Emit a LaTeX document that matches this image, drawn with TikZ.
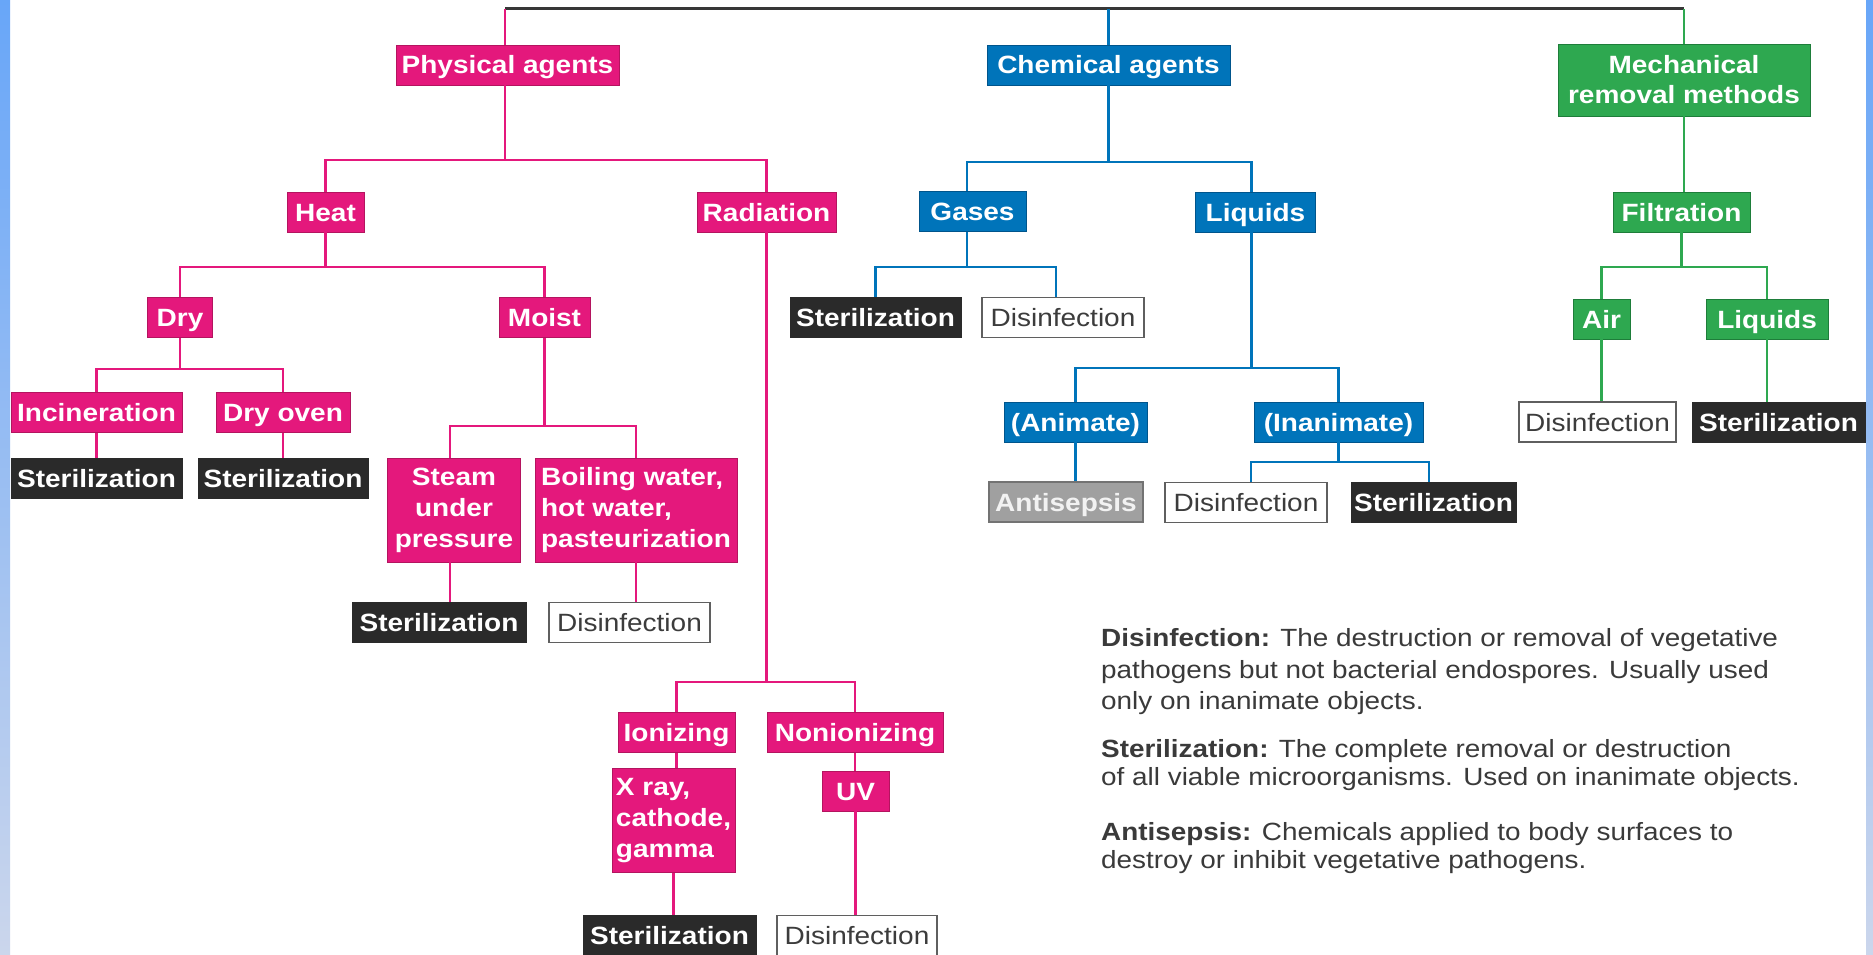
\documentclass[tikz,border=0pt]{standalone}
\usepackage{fontspec}
\setmainfont{Liberation Sans}[FakeStretch=1.12]
\definecolor{pinkc}{RGB}{228,24,124}
\definecolor{pinkd}{RGB}{180,20,95}
\definecolor{bluec}{RGB}{0,116,186}
\definecolor{blued}{RGB}{0,85,140}
\definecolor{greenc}{RGB}{46,168,80}
\definecolor{greend}{RGB}{30,125,58}
\definecolor{darkc}{RGB}{42,42,42}
\definecolor{dgray}{RGB}{95,95,95}
\definecolor{dtext}{RGB}{60,60,60}
\definecolor{agray}{RGB}{160,160,160}
\definecolor{agrayd}{RGB}{115,115,115}
\definecolor{atext}{RGB}{242,242,242}
\definecolor{topc}{RGB}{55,55,55}
\definecolor{legc}{RGB}{58,58,58}
\definecolor{stripT}{RGB}{104,166,248}
\definecolor{stripB}{RGB}{203,214,236}
\newcommand\labf{\fontsize{25pt}{31pt}\selectfont\bfseries}
\newcommand\labr{\fontsize{25pt}{31pt}\selectfont}
\newcommand\legf{\fontsize{24.9pt}{30pt}\selectfont}
\begin{document}
\begin{tikzpicture}[x=1pt,y=-1pt,
  base/.style={rectangle, inner xsep=3pt, inner ysep=0pt, text=white, font=\labf},
  one/.style={base, minimum height=40pt, text height=19.5pt, text depth=1.5pt},
  pfill/.style={fill=pinkc, draw=pinkd, line width=0.8pt},
  bfill/.style={fill=bluec, draw=blued, line width=0.8pt},
  gfill/.style={fill=greenc, draw=greend, line width=0.8pt},
  pbox/.style={one, pfill},
  pmbox/.style={base, pfill, minimum height=104pt},
  bbox/.style={one, bfill},
  gbox/.style={one, gfill},
  gmbox/.style={base, gfill, minimum height=72pt, align=center, font=\fontsize{25pt}{30pt}\selectfont\bfseries},
  sbox/.style={one, fill=darkc, draw=darkc},
  dbox/.style={one, fill=white, draw=dgray, line width=1.5pt, text=dtext, font=\labr},
  abox/.style={one, fill=agray, draw=agrayd, line width=1.5pt, text=atext},
  pl/.style={draw=pinkc, line width=2.4pt},
  bl/.style={draw=bluec, line width=2.4pt},
  gl/.style={draw=greenc, line width=2.2pt},
  tl/.style={draw=topc, line width=3pt},
  leg/.style={anchor=base west, inner sep=0pt, text=legc, font=\legf}
]
\useasboundingbox (0,0) rectangle (1873,955);
\fill[white] (0,0) rectangle (1873,955);
\shade[top color=stripT, bottom color=stripB] (0,0) rectangle (10,955);
\shade[top color=stripT, bottom color=stripB] (1866,0) rectangle (1873,955);

% ---------- physical agents (pink) ----------
\node[pbox, minimum width=223pt] (phys) at (507.5,65) {Physical agents};
\node[pbox, minimum width=77pt] (heat) at (325.5,212) {Heat};
\node[pbox, minimum width=139pt] (rad) at (766.5,212) {Radiation};
\node[pbox, minimum width=65pt] (dry) at (180,317.5) {Dry};
\node[pbox, minimum width=91pt] (moist) at (544.5,317.5) {Moist};
\node[pbox, minimum width=171pt] (incin) at (96.5,412.5) {Incineration};
\node[pbox, minimum width=134pt] (dryoven) at (283,412.5) {Dry oven};
\node[pmbox, minimum width=133pt, align=center] (steam) at (454,510) {Steam\\under\\pressure};
\node[pmbox, minimum width=202pt, align=left] (boil) at (636,510) {Boiling water,\\hot water,\\pasteurization};
\node[pbox, minimum width=117pt] (ioniz) at (676.5,732.5) {Ionizing};
\node[pbox, minimum width=176pt] (nonion) at (855,732.5) {Nonionizing};
\node[pmbox, minimum width=123pt, align=left] (xray) at (673.5,820.5) {X ray,\\cathode,\\gamma};
\node[pbox, minimum width=67pt] (uv) at (855.5,791) {UV};
\node[sbox, minimum width=171pt] (s1) at (96.5,478) {Sterilization};
\node[sbox, minimum width=170pt] (s2) at (283,478) {Sterilization};
\node[sbox, minimum width=174pt] (s3) at (439,622.5) {Sterilization};
\node[dbox, minimum width=161pt] (d3) at (629.5,622.5) {Disinfection};
\node[sbox, minimum width=173pt] (s4) at (669.5,935.5) {Sterilization};
\node[dbox, minimum width=160pt] (d4) at (857,935.5) {Disinfection};

% ---------- chemical agents (blue) ----------
\node[bbox, minimum width=243pt] (chem) at (1108.5,65) {Chemical agents};
\node[bbox, minimum width=107pt] (gases) at (972.5,211.5) {Gases};
\node[bbox, minimum width=120pt] (liquids) at (1255.5,212) {Liquids};
\node[sbox, minimum width=171pt] (sG) at (875.5,317.5) {Sterilization};
\node[dbox, minimum width=162pt] (dG) at (1063,317.5) {Disinfection};
\node[bbox, minimum width=143pt] (animate) at (1075.5,422) {(Animate)};
\node[bbox, minimum width=169pt] (inanimate) at (1338.5,422) {(Inanimate)};
\node[abox, minimum width=154pt] (antisep) at (1066,502) {Antisepsis};
\node[dbox, minimum width=162pt] (dL) at (1246,502.5) {Disinfection};
\node[sbox, minimum width=165pt] (sL) at (1433.5,502.5) {Sterilization};

% ---------- mechanical removal (green) ----------
\node[gmbox, minimum width=252pt] (mech) at (1684,80) {Mechanical\\removal methods};
\node[gbox, minimum width=137pt] (filt) at (1681.5,212) {Filtration};
\node[gbox, minimum width=57pt] (air) at (1601.5,319) {Air};
\node[gbox, minimum width=122pt] (liqG) at (1767,319) {Liquids};
\node[dbox, minimum width=157pt] (dM) at (1597.5,422) {Disinfection};
\node[sbox, minimum width=173pt] (sM) at (1778.5,422) {Sterilization};

% ---------- connectors ----------
\draw[tl] ([xshift=-2.5pt]phys.north |- 0,9) -- (mech.north |- 0,9);
\draw[pl] ([xshift=-2.5pt]phys.north) -- ([xshift=-2.5pt]phys.north |- 0,9);
\draw[bl] (chem.north) -- (chem.north |- 0,9);
\draw[gl] (mech.north) -- (mech.north |- 0,9);

% pink
\draw[pl] ([xshift=-2.5pt]phys.south) -- ([xshift=-2.5pt]phys.south |- 0,160);
\draw[pl] (heat.north) |- (rad.north |- 0,160) -- (rad.north);
\draw[pl] (heat.south) -- (heat.south |- 0,267);
\draw[pl] (dry.north) |- (moist.north |- 0,267) -- (moist.north);
\draw[pl] (dry.south) -- (dry.south |- 0,369);
\draw[pl] (incin.north) |- (dryoven.north |- 0,369) -- (dryoven.north);
\draw[pl] (incin.south) -- (incin.south |- s1.north);
\draw[pl] (dryoven.south) -- (dryoven.south |- s2.north);
\draw[pl] (moist.south) -- (moist.south |- 0,426);
\draw[pl] ([xshift=-4pt]steam.north) |- (boil.north |- 0,426) -- (boil.north);
\draw[pl] ([xshift=-4pt]steam.south) -- ([xshift=-4pt]steam.south |- s3.north);
\draw[pl] (boil.south) -- (boil.south |- d3.north);
\draw[pl] (rad.south) -- (rad.south |- 0,682);
\draw[pl] (ioniz.north) |- (nonion.north |- 0,682) -- (nonion.north);
\draw[pl] (ioniz.south) -- (ioniz.south |- xray.north);
\draw[pl] (xray.south) -- (xray.south |- s4.north);
\draw[pl] (nonion.south) -- (nonion.south |- uv.north);
\draw[pl] (uv.south) -- (uv.south |- d4.north);

% blue
\draw[bl] (chem.south) -- (chem.south |- 0,162);
\draw[bl] ([xshift=-5.5pt]gases.north) |- ([xshift=-4pt]liquids.north |- 0,162) -- ([xshift=-4pt]liquids.north);
\draw[bl] ([xshift=-5.5pt]gases.south) -- ([xshift=-5.5pt]gases.south |- 0,267);
\draw[bl] (sG.north) |- ([xshift=-7pt]dG.north |- 0,267) -- ([xshift=-7pt]dG.north);
\draw[bl] ([xshift=-4pt]liquids.south) -- ([xshift=-4pt]liquids.south |- 0,368);
\draw[bl] (animate.north) |- (inanimate.north |- 0,368) -- (inanimate.north);
\draw[bl] (animate.south) -- (animate.south |- antisep.north);
\draw[bl] (inanimate.south) -- (inanimate.south |- 0,462);
\draw[bl] ([xshift=5pt]dL.north) |- ([xshift=-4.5pt]sL.north |- 0,462) -- ([xshift=-4.5pt]sL.north);

% green
\draw[gl] (mech.south) -- (mech.south |- filt.north);
\draw[gl] (filt.south) -- (filt.south |- 0,267);
\draw[gl] (air.north) |- (liqG.north |- 0,267) -- (liqG.north);
\draw[gl] (air.south) -- (air.south |- dM.north);
\draw[gl] (liqG.south) -- (liqG.south |- sM.north);

% ---------- legend ----------
\node[leg] (l1) at (1101,646) {\textbf{Disinfection:} The destruction or removal of vegetative};
\node[leg] (l2) at (1101,678) {pathogens but not bacterial endospores. Usually used};
\node[leg] (l3) at (1101,709) {only on inanimate objects.};
\node[leg] (l4) at (1101,757) {\textbf{Sterilization:} The complete removal or destruction};
\node[leg] (l5) at (1101,785) {of all viable microorganisms. Used on inanimate objects.};
\node[leg] (l6) at (1101,840) {\textbf{Antisepsis:} Chemicals applied to body surfaces to};
\node[leg] (l7) at (1101,868) {destroy or inhibit vegetative pathogens.};
\end{tikzpicture}
\end{document}
